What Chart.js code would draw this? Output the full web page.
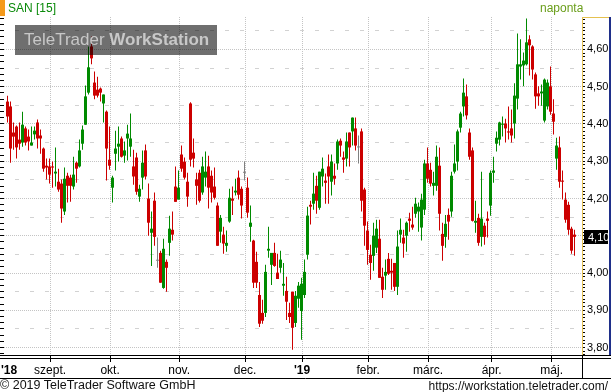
<!DOCTYPE html>
<html><head><meta charset="utf-8">
<script src="https://cdn.jsdelivr.net/npm/chart.js@4.4.1/dist/chart.umd.min.js"></script>
<style>
html,body{margin:0;padding:0;background:#fff;}
#wrap{position:relative;width:611px;height:392px;overflow:hidden;font-family:"Liberation Sans",Arial,sans-serif;}
canvas{position:absolute;left:0;top:0;}
.t{position:absolute;white-space:nowrap;}
</style></head><body>
<div id="wrap">
<canvas id="c" width="611" height="392"></canvas>
<div class="t" style="left:0;top:0;width:5px;height:16px;background:#f59a1b"></div>
<div class="t" style="left:8px;top:1px;font-size:12px;color:#0a8a0a">SAN [15]</div>
<div class="t" style="left:540px;top:1px;font-size:12px;color:#6a9e1a">naponta</div>
<div class="t" style="left:15px;top:25px;width:202px;height:30px;background:rgba(0,0,0,0.565);color:#c8c8c8;font-size:17px;line-height:30px;padding-left:9px;box-sizing:border-box;">TeleTrader <b>WorkStation</b></div>
<div class="t" style="left:0;top:378px;font-size:12.5px;color:#111">© 2019 TeleTrader Software GmbH</div>
<div class="t" style="right:3px;top:379px;font-size:12px;color:#111">https://workstation.teletrader.com/</div>
</div>
<script>
const opens = [
4.460,4.447,4.377,4.393,4.358,4.350,4.388,4.366,4.342,4.372,
4.404,4.369,4.334,4.288,4.286,4.286,4.267,4.245,4.240,4.165,
4.261,4.256,4.232,4.296,4.286,4.347,4.398,4.484,4.608,4.511,
4.492,4.495,4.455,4.433,4.304,4.229,4.320,4.339,4.361,4.315,
4.361,4.339,4.286,4.310,4.205,4.256,4.329,4.200,4.108,4.194,
4.033,4.054,3.960,4.030,4.081,4.116,4.232,4.197,4.318,4.299,
4.245,4.455,4.323,4.251,4.269,4.216,4.256,4.286,4.261,4.232,
4.181,4.111,4.103,4.073,4.138,4.200,4.216,4.256,4.226,4.269,
4.229,4.124,4.087,4.030,3.941,3.893,3.893,4.060,4.022,4.054,
4.001,4.014,3.966,3.952,3.893,3.950,3.866,3.931,3.898,3.941,
4.049,4.183,4.186,4.234,4.175,4.259,4.248,4.286,4.245,4.261,
4.294,4.355,4.310,4.307,4.377,4.380,4.388,4.337,4.380,4.224,
4.114,4.049,4.046,4.068,4.092,3.990,3.993,4.038,4.006,4.027,
3.963,4.103,4.095,4.100,4.146,4.130,4.159,4.165,4.122,4.170,
4.294,4.277,4.234,4.234,4.288,4.105,4.097,4.156,4.165,4.272,
4.299,4.390,4.447,4.474,4.377,4.329,4.135,4.148,4.097,4.127,
4.146,4.181,4.269,4.347,4.358,4.398,4.401,4.380,4.388,4.401,
4.468,4.554,4.557,4.560,4.627,4.608,4.533,4.482,4.482,4.409,
4.447,4.501,4.428,4.307,4.337,4.248,4.197,4.183,4.119,4.103];
const closes = [
4.420,4.334,4.366,4.337,4.347,4.398,4.350,4.353,4.350,4.382,
4.361,4.361,4.280,4.283,4.264,4.283,4.272,4.224,4.173,4.253,
4.234,4.234,4.264,4.280,4.329,4.385,4.474,4.552,4.576,4.476,
4.476,4.484,4.479,4.334,4.288,4.256,4.334,4.347,4.312,4.329,
4.374,4.361,4.259,4.218,4.226,4.296,4.259,4.135,4.119,4.097,
4.033,3.974,4.065,4.014,4.119,4.103,4.191,4.229,4.280,4.256,
4.205,4.304,4.307,4.234,4.194,4.286,4.272,4.229,4.216,4.202,
4.073,4.148,4.079,4.081,4.202,4.194,4.221,4.210,4.181,4.269,
4.162,4.135,3.974,3.974,3.864,3.872,4.003,4.065,4.054,4.019,
3.984,4.036,3.971,3.923,3.882,3.853,3.939,3.966,3.971,4.003,
4.154,4.178,4.213,4.194,4.272,4.280,4.242,4.259,4.299,4.253,
4.353,4.342,4.304,4.353,4.337,4.417,4.342,4.337,4.194,4.127,
4.062,4.027,4.100,4.119,3.987,3.955,4.003,3.998,4.001,3.963,
4.071,4.116,4.079,4.135,4.140,4.122,4.186,4.178,4.197,4.294,
4.253,4.240,4.242,4.312,4.159,4.073,4.132,4.138,4.261,4.294,
4.380,4.428,4.484,4.423,4.312,4.140,4.140,4.081,4.146,4.097,
4.140,4.269,4.275,4.363,4.404,4.401,4.388,4.377,4.369,4.476,
4.560,4.560,4.570,4.619,4.611,4.546,4.474,4.474,4.487,4.519,
4.511,4.433,4.406,4.342,4.245,4.245,4.143,4.116,4.060,4.097];
const highs = [
4.476,4.460,4.404,4.396,4.404,4.433,4.393,4.385,4.393,4.393,
4.412,4.385,4.337,4.307,4.307,4.299,4.337,4.280,4.251,4.283,
4.269,4.264,4.312,4.299,4.358,4.396,4.503,4.608,4.635,4.541,
4.527,4.498,4.479,4.436,4.393,4.261,4.382,4.393,4.366,4.353,
4.398,4.428,4.331,4.323,4.237,4.329,4.345,4.240,4.165,4.216,
4.095,4.060,4.092,4.036,4.154,4.165,4.286,4.275,4.342,4.310,
4.269,4.458,4.361,4.269,4.277,4.312,4.326,4.315,4.275,4.283,
4.189,4.156,4.124,4.114,4.226,4.232,4.253,4.275,4.232,4.299,
4.256,4.181,4.089,4.057,3.976,3.928,4.022,4.124,4.054,4.081,
4.052,4.060,4.027,3.990,3.920,3.950,3.952,3.976,3.987,4.036,
4.178,4.194,4.269,4.261,4.272,4.310,4.267,4.318,4.318,4.294,
4.358,4.361,4.326,4.377,4.377,4.417,4.417,4.369,4.388,4.229,
4.138,4.076,4.135,4.143,4.143,4.014,4.036,4.054,4.038,4.027,
4.114,4.146,4.116,4.138,4.162,4.178,4.202,4.189,4.213,4.304,
4.337,4.296,4.272,4.342,4.337,4.135,4.156,4.173,4.272,4.345,
4.385,4.433,4.522,4.506,4.388,4.337,4.194,4.159,4.272,4.135,
4.165,4.275,4.312,4.380,4.406,4.420,4.414,4.447,4.439,4.509,
4.643,4.627,4.592,4.683,4.638,4.611,4.538,4.501,4.506,4.522,
4.519,4.554,4.466,4.363,4.366,4.275,4.216,4.191,4.124,4.116];
const lows = [
4.404,4.296,4.331,4.307,4.331,4.339,4.342,4.329,4.342,4.358,
4.334,4.320,4.272,4.251,4.240,4.229,4.232,4.218,4.135,4.156,
4.189,4.191,4.224,4.242,4.283,4.331,4.398,4.479,4.560,4.466,
4.471,4.460,4.404,4.248,4.277,4.189,4.275,4.299,4.310,4.296,
4.302,4.312,4.237,4.210,4.191,4.224,4.251,4.100,4.019,4.073,
4.014,3.974,3.958,3.950,4.046,4.087,4.191,4.197,4.272,4.251,
4.178,4.286,4.283,4.183,4.189,4.210,4.232,4.173,4.189,4.197,
4.073,4.081,4.052,4.057,4.135,4.156,4.208,4.197,4.146,4.248,
4.148,4.084,3.960,3.960,3.855,3.864,3.882,4.041,3.968,4.017,
3.984,4.001,3.939,3.874,3.866,3.794,3.855,3.907,3.821,3.933,
4.036,4.130,4.170,4.159,4.170,4.232,4.186,4.186,4.208,4.237,
4.277,4.312,4.269,4.286,4.286,4.342,4.329,4.294,4.165,4.073,
4.022,3.982,4.006,4.054,3.987,3.933,3.955,3.995,3.955,3.952,
3.941,4.081,4.041,4.057,4.111,4.116,4.148,4.111,4.087,4.156,
4.242,4.232,4.208,4.221,4.114,4.033,4.068,4.089,4.151,4.267,
4.275,4.377,4.420,4.412,4.304,4.138,4.108,4.073,4.071,4.076,
4.095,4.154,4.242,4.326,4.342,4.366,4.350,4.358,4.350,4.361,
4.439,4.519,4.501,4.557,4.530,4.519,4.441,4.449,4.449,4.404,
4.439,4.425,4.372,4.277,4.229,4.197,4.135,4.103,4.052,4.046];

// x-axis ticks (in trading-day index units) and their labels
const monthTickIdx = [0.5, 14.2, 34.2, 57.2, 79.2, 98.2, 120.2, 140.2, 161.4, 181.4];
const monthTickLabels = ["'18", "szept.", "okt.", "nov.", "dec.", "'19", "febr.", "márc.", "ápr.", "máj."];
const yMin = 3.78, yMax = 4.687;

const GREEN = '#008a00', RED = '#cc0000', GRAY = '#808080';
const idx = closes.map((_, i) => i);
const cols = closes.map((c, i) => c > opens[i] ? GREEN : (c < opens[i] ? RED : GRAY));

Chart.defaults.font.family = "'Liberation Sans', Arial, sans-serif";

const framePlugin = {
  id: 'frame',
  afterDraw(chart) {
    const {ctx, chartArea: a} = chart;
    const W = chart.width;
    ctx.save();
    const line = (x1, y1, x2, y2) => { ctx.beginPath(); ctx.moveTo(x1, y1); ctx.lineTo(x2, y2); ctx.stroke(); };
    ctx.strokeStyle = '#000'; ctx.lineWidth = 1;
    line(0, a.bottom + 0.5, W, a.bottom + 0.5);
    line(0, a.bottom + 3.5, W, a.bottom + 3.5);
    line(0, a.bottom + 23.5, W, a.bottom + 23.5);
    line(a.right + 0.5, a.bottom, a.right + 0.5, a.bottom + 23.5);
    ctx.strokeStyle = '#e5c150';
    line(a.right, a.top + 0.5, W - 2, a.top + 0.5);
    ctx.fillStyle = '#1f2f8a';
    ctx.fillRect(W - 2, a.top, 2, a.bottom - a.top);
    // last price marker
    const yR = chart.scales.yR;
    const last = closes[closes.length - 1];
    const py = Math.round(yR.getPixelForValue(last));
    ctx.fillStyle = '#000';
    ctx.fillRect(a.right + 2, py - 7, 24, 14);
    ctx.fillStyle = '#fff';
    ctx.font = "11px 'Liberation Sans', Arial, sans-serif";
    ctx.textBaseline = 'middle';
    ctx.textAlign = 'left';
    ctx.fillText(last.toFixed(2).replace('.', ','), a.right + 6, py + 0.5);
    ctx.restore();
  }
};

const k60 = c => (c && c.tick) ? Math.round(c.tick.value * 60) : null;

new Chart(document.getElementById('c'), {
  type: 'bar',
  data: {
    datasets: [
      { label: 'wick', data: idx.map(i => ({x: i, y: [lows[i], highs[i]]})), backgroundColor: cols,
        barThickness: 1, grouped: false, order: 2, borderWidth: 0, inflateAmount: 0 },
      { label: 'body', data: idx.map(i => ({x: i, y: [opens[i], closes[i]]})), backgroundColor: cols,
        barThickness: 3, minBarLength: 1, grouped: false, order: 1, borderWidth: 0, inflateAmount: 0 }
    ]
  },
  options: {
    responsive: false, animation: false, devicePixelRatio: 1,
    layout: { padding: { top: 17, bottom: 13, left: 0, right: 0 } },
    plugins: { legend: { display: false }, tooltip: { enabled: false } },
    scales: {
      x: {
        type: 'linear', min: -1.1667, max: 191.5, offset: false,
        afterBuildTicks: s => { s.ticks = monthTickIdx.map(v => ({value: v})); },
        afterFit: s => { s.height = 24; s.paddingLeft = 0; s.paddingRight = 0; },
        ticks: {
          autoSkip: false, maxRotation: 0, minRotation: 0, padding: 1, color: '#000',
          font: c => ({ size: 12, weight: (monthTickLabels[c.index] || '').startsWith("'") ? 'bold' : 'normal' }),
          callback: (v, i) => monthTickLabels[i]
        },
        grid: {
          offset: false, lineWidth: 1, tickLength: 7,
          color: c => c.index === 0 ? 'rgba(0,0,0,0)' : '#c4c4c4',
          tickColor: c => c.index === 0 ? 'rgba(0,0,0,0)' : '#000'
        },
        border: { display: true, color: '#000', dash: [1, 1] }
      },
      y: {
        position: 'left', min: yMin, max: yMax,
        afterFit: s => { s.width = 4; s.paddingTop = 0; s.paddingBottom = 0; },
        ticks: { display: false, stepSize: 1 / 60, autoSkip: false, includeBounds: false },
        grid: {
          tickLength: 4, tickColor: '#000', lineWidth: 1,
          color: c => { const k = k60(c); if (k === null || k % 3 !== 0) return 'rgba(0,0,0,0)'; return k % 6 === 0 ? '#c4c4c4' : '#d2d2d2'; }
        },
        border: {
          display: false,
          dash: c => { const k = k60(c); if (k === null) return []; return k % 6 === 0 ? [1, 1] : [4, 11]; },
          dashOffset: 4
        }
      },
      yR: {
        position: 'right', min: yMin, max: yMax,
        afterFit: s => { s.width = 29; s.paddingTop = 0; s.paddingBottom = 0; },
        ticks: {
          stepSize: 0.01, autoSkip: false, includeBounds: false, padding: 2, color: '#000',
          font: { size: 11 },
          callback: v => { const k = Math.round(v * 100); return k % 10 === 0 ? (k / 100).toFixed(2).replace('.', ',') : ''; }
        },
        grid: { drawOnChartArea: false, color: '#000', tickColor: '#000', tickLength: 3 },
        border: { display: true, color: '#e5c150', width: 1 }
      }
    }
  },
  plugins: [framePlugin]
});
</script>
</body></html>
